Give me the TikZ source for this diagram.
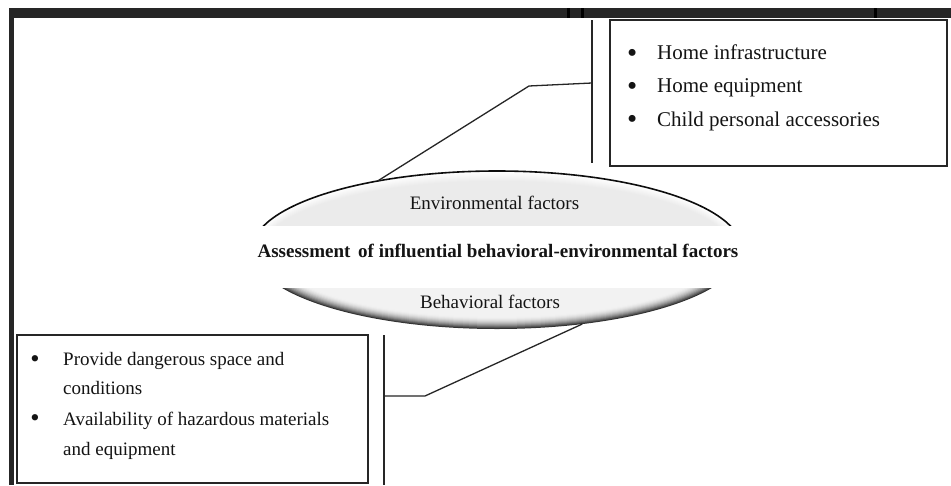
\documentclass[tikz,border=0pt]{standalone}
\usepackage{fontspec}
\setmainfont{Liberation Serif}
\usetikzlibrary{shapes.geometric}
\definecolor{framegray}{HTML}{262626}
\definecolor{txt}{HTML}{141414}
\begin{document}
\begin{tikzpicture}[x=1pt,y=-1pt,
  box/.style={draw=black!85, line width=1.3pt, inner sep=0pt, outer sep=0pt},
  conn/.style={draw=black!85, line width=1.3pt},
  lbl/.style={anchor=base, inner sep=0pt, font=\fontsize{19}{23}\selectfont, text=txt},
  itemA/.style={anchor=base west, inner sep=0pt, font=\fontsize{21}{25}\selectfont, text=txt},
  itemB/.style={anchor=base west, inner sep=0pt, font=\fontsize{19}{23}\selectfont, text=txt},
  bulA/.style={anchor=base west, inner sep=0pt, font=\fontsize{29}{29}\selectfont, text=txt},
  bulB/.style={anchor=base west, inner sep=0pt, font=\fontsize{26.5}{26.5}\selectfont, text=txt}]
\useasboundingbox (0,0) rectangle (951,485);
\fill[white] (0,0) rectangle (951,485);
% frame
\fill[framegray] (9,8) rectangle (951,18);
\fill[framegray] (9,8) rectangle (14,485);
\fill[black] (567,8) rectangle (570,18);
\fill[black] (581,8) rectangle (584,18);
\fill[black] (874,8) rectangle (877,18);
% central ellipse
\node[ellipse, minimum width=490pt, minimum height=158pt, inner sep=0pt, outer sep=0pt] (ell) at (497,250) {};
\begin{scope}
  \clip (0,0) rectangle (951,225);
  \foreach \i in {0,...,10} {
    \pgfmathsetmacro\c{8*\i/10}
    \fill[black!\c] (ell.center) ellipse [x radius={245-\i}, y radius={79-\i}];
  }
  \draw[line width=1.6pt, black!95] (ell.center) ellipse [x radius=245, y radius=79];
\end{scope}
\begin{scope}
  \clip (0,288) rectangle (951,485);
  \foreach \i in {0,...,12} {
    \pgfmathsetmacro\c{5+75*(1-\i/12)^2}
    \fill[black!\c] (ell.center) ellipse [x radius={245-\i*1.6}, y radius={79-\i}];
  }
\end{scope}
\node[lbl] (env) at (494.5,209) {Environmental factors};
\node[lbl] (beh) at (490,308) {Behavioral factors};
\node[lbl, font=\fontsize{19}{23}\selectfont\bfseries] (title) at (498,257) {Assessment\hspace{3pt} of influential behavioral-environmental factors};
% boxes
\node[box, minimum width=337pt, minimum height=146pt] (envbox) at (778.5,93) {};
\node[box, minimum width=351pt, minimum height=148pt] (behbox) at (192.5,409) {};
% upper box items
\node[bulA] (b1) at (627,62) {\textbullet};
\node[itemA] (t1) at (657,59.5) {Home infrastructure};
\node[bulA] (b2) at (627,95.2) {\textbullet};
\node[itemA] (t2) at (657,92.7) {Home equipment};
\node[bulA] (b3) at (627,128.5) {\textbullet};
\node[itemA] (t3) at (657,126) {Child personal accessories};
% lower box items
\node[bulB] (b4) at (30.3,367) {\textbullet};
\node[itemB] (t4) at (63,365.7) {Provide dangerous space and};
\node[itemB] (t5) at (63,394) {conditions};
\node[bulB] (b6) at (30.3,426.3) {\textbullet};
\node[itemB] (t6) at (63,425) {Availability of hazardous materials};
\node[itemB] (t7) at (63,455) {and equipment};
% connectors
\coordinate (v1t) at (592,20);
\coordinate (v1b) at (592,163);
\coordinate (k1) at (592,83);
\coordinate (e1) at (529,86);
\draw[conn] (v1t) -- (v1b);
\draw[conn] (k1) -- (e1) -- (ell.150);
\coordinate (v2t) at (384,335);
\coordinate (v2b) at (384,485);
\coordinate (k2) at (384,396);
\coordinate (e2) at (425,396);
\draw[conn] (v2t) -- (v2b);
\draw[conn] (k2) -- (e2) -- (ell.319);
\end{tikzpicture}
\end{document}
